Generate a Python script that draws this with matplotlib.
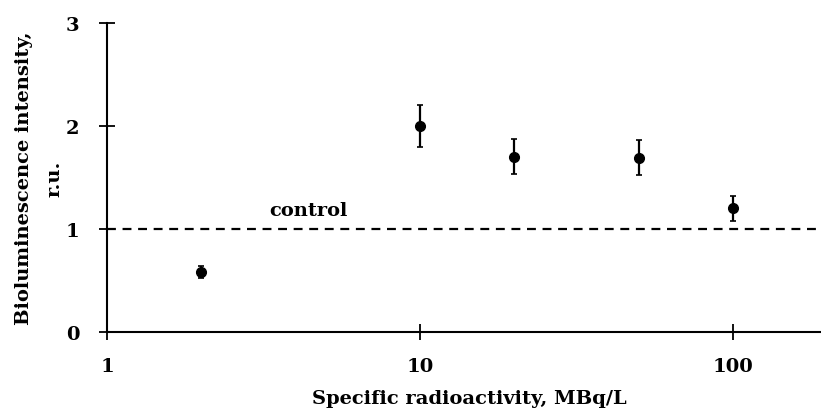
import numpy as np
import matplotlib.pyplot as plt

plt.rcParams['font.family'] = ['DejaVu Serif']
plt.rcParams['font.weight'] = 'bold'

activity = [2, 10, 20, 50, 100]
intensity = [0.58, 2.0, 1.70, 1.69, 1.20]
errors = [0.06, 0.20, 0.17, 0.17, 0.12]
control = 1.0

fig = plt.figure(figsize=(8.21, 4.14), dpi=100)
ax = fig.add_axes([0.1303, 0.1957, 0.8697, 0.7464])

ax.errorbar(activity, intensity, yerr=errors, fmt='o', color='black',
            markersize=7, elinewidth=1.6, capsize=2, capthick=1.2)
ax.axhline(control, color='black', linestyle=(0, (4, 3)), linewidth=1.6)
ax.text(3.3, 1.14, 'control', fontsize=14, fontweight='bold')

ax.set_xscale('log')
ax.set_xlim(1, 191)
ax.set_ylim(0, 3)
ax.set_xticks([1, 10, 100])
ax.set_xticklabels(['1', '10', '100'])
ax.minorticks_off()
ax.set_yticks([0, 1, 2, 3])

for s in ['top', 'right']:
    ax.spines[s].set_visible(False)
for s in ['left', 'bottom']:
    ax.spines[s].set_linewidth(1.5)

ax.tick_params(axis='both', direction='inout', length=12, width=1.3,
               labelsize=14)
ax.tick_params(axis='x', pad=12)
ax.tick_params(axis='y', pad=14)

ax.set_xlabel('Specific radioactivity, MBq/L', fontsize=14, fontweight='bold')
ax.set_ylabel('Bioluminescence intensity,\nr.u.', fontsize=14,
              fontweight='bold', linespacing=1.9)
ax.xaxis.set_label_coords(0.508, -0.185)
ax.yaxis.set_label_coords(-0.061, 0.5)

fig.savefig('out.png', dpi=100)
